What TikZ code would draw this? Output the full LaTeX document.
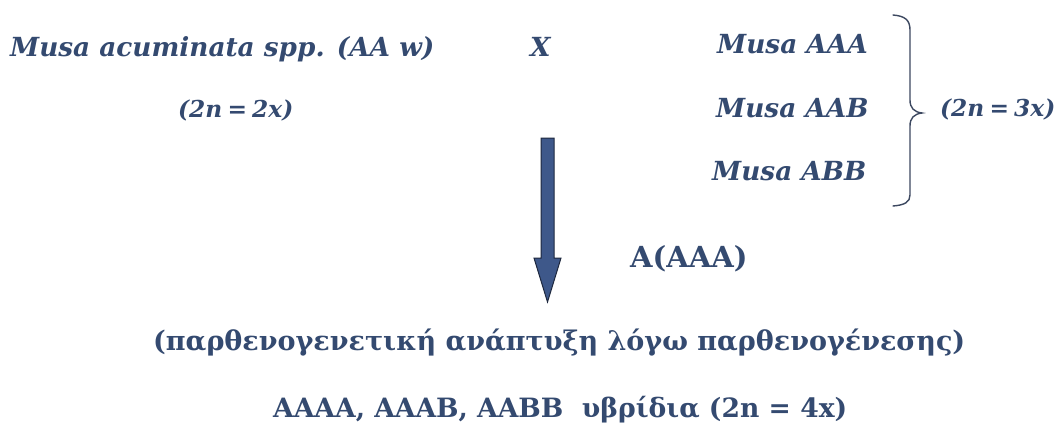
\documentclass[tikz,border=0pt]{standalone}
\usepackage{fontspec}
\setmainfont{DejaVu Serif}
\definecolor{txt}{RGB}{52,74,112}
\definecolor{arrfill}{RGB}{62,88,138}
\definecolor{arredge}{RGB}{30,40,62}
\definecolor{brace}{RGB}{60,72,96}
\newcommand{\nsp}{\hspace{0.22em}}
\begin{document}
\begin{tikzpicture}[x=1pt,y=-1pt,
  lbl/.style={text=txt,inner sep=0pt,anchor=base west,font=\fontsize{26.3}{30}\selectfont\itshape\bfseries},
  plbl/.style={lbl,font=\fontsize{23.3}{27}\selectfont\itshape\bfseries},
  blbl/.style={text=txt,inner sep=0pt,anchor=base west,font=\fontsize{29}{33}\selectfont\bfseries},
  glbl/.style={text=txt,inner sep=0pt,anchor=base west,font=\fontsize{27}{31}\selectfont\bfseries}]
\useasboundingbox[fill=white] (0,0) rectangle (1057,424);
\node[lbl] (musaacu) at (10,56) {Musa acuminata spp. (AA w)};
\node[lbl] (cross) at (530,56) {X};
\node[lbl] (aaa) at (717,53) {Musa AAA};
\node[plbl] (diploid) at (178,117) {(2n\nsp=\nsp2x)};
\node[lbl] (aab) at (716,117) {Musa AAB};
\node[lbl] (abb) at (712,180) {Musa ABB};
\node[plbl] (triploid) at (940,116) {(2n\nsp=\nsp3x)};
\node[blbl] (aaaa) at (630,267) {A(AAA)};
\node[glbl] (greek) at (153,350) {(παρθενογενετική ανάπτυξη λόγω παρθενογένεσης)};
\node[glbl,font=\fontsize{26.6}{31}\selectfont\bfseries] (hybrids) at (273,417) {AAAA, AAAB, AABB\ \ υβρίδια (2n = 4x)};
% brace
\draw[brace,line width=1.4pt,line cap=round]
  (893,15) .. controls (905,16) and (910,20) .. (910,30)
  -- (910,100) .. controls (910,108) and (914,112) .. (922,113)
  .. controls (914,114) and (910,118) .. (910,126)
  -- (910,195) .. controls (910,202) and (905,205) .. (893,206);
% block arrow
\draw[fill=arrfill,draw=arredge,line width=1pt,line join=miter]
  (541,138) -- (554,138) -- (554,258) -- (561,258) -- (547.5,302)
  -- (534,258) -- (541,258) -- cycle;
\end{tikzpicture}
\end{document}
